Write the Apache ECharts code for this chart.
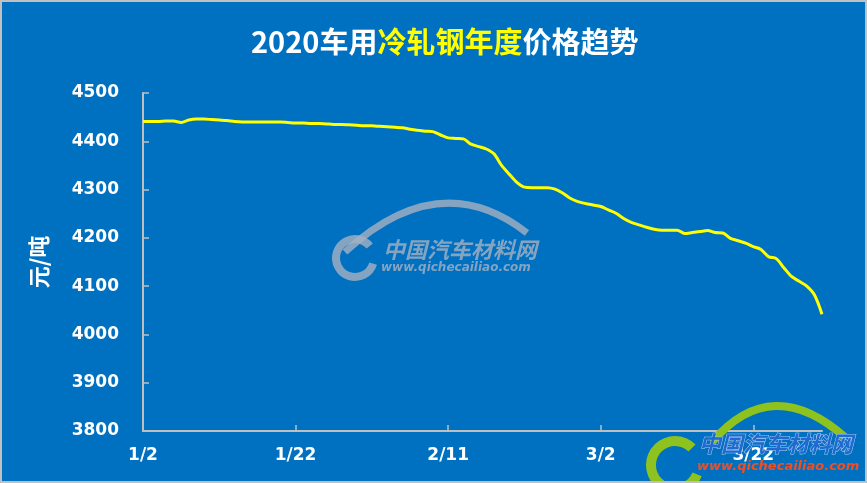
<!DOCTYPE html>
<html><head><meta charset="utf-8">
<script src="https://cdn.jsdelivr.net/npm/echarts@6/dist/echarts.min.js"></script>
<style>html,body{margin:0;padding:0;background:#0070C0}#c{width:867px;height:483px}</style>
</head><body><div id="c"></div>
<script>
// Daily dates 1/2 .. 3/31 (2020)
const startMonthDays = [[1, 2, 31], [2, 1, 29], [3, 1, 31]];
const dates = [];
startMonthDays.forEach(([m, s, e]) => { for (let d = s; d <= e; d++) dates.push(m + '/' + d); });

const prices = [
  4441, 4441, 4441, 4442, 4442, 4439, 4444, 4446, 4446, 4445,
  4444, 4443, 4441, 4440, 4440, 4440, 4440, 4440, 4440, 4439,
  4438, 4438, 4437, 4437, 4436, 4435, 4435, 4434, 4433, 4432,
  4432, 4431, 4430, 4429, 4428, 4425, 4423, 4421, 4420, 4413,
  4407, 4406, 4405, 4394, 4389, 4384, 4374, 4350, 4332, 4315,
  4305, 4304, 4304, 4304, 4301, 4293, 4282, 4275, 4271, 4268,
  4265, 4258, 4251, 4240, 4232, 4227, 4222, 4218, 4216, 4216,
  4216, 4209, 4211, 4213, 4215, 4211, 4210, 4199, 4194, 4189,
  4182, 4176, 4161, 4157, 4138, 4120, 4110, 4100, 4082, 4042
];

const yMin = 3800, yMax = 4500, yStep = 100;
const titleParts = ['2020车用', '冷轧钢年度', '价格趋势'];
const yName = '元/吨';

const chart = echarts.init(document.getElementById('c'));
const wmGray = 'rgba(165,178,192,0.8)';
chart.setOption({
  backgroundColor: '#0070C0',
  animation: false,
  title: {
    text: '{w|' + titleParts[0] + '}{y|' + titleParts[1] + '}{w|' + titleParts[2] + '}',
    left: 246, top: 22,
    textStyle: {
      rich: {
        w: { color: '#FFFFFF', fontSize: 29, fontWeight: 'bold', fontFamily: 'Noto Sans CJK SC' },
        y: { color: '#FFFF00', fontSize: 29, fontWeight: 'bold', fontFamily: 'Noto Sans CJK SC' }
      }
    }
  },
  grid: { left: 143, right: 45, top: 93, bottom: 52 },
  xAxis: {
    type: 'category', data: dates, boundaryGap: false,
    axisLine: { lineStyle: { color: '#BFBFBF', width: 2 } },
    axisTick: { inside: true, length: 6, interval: 19, lineStyle: { color: '#BFBFBF', width: 1.5 } },
    axisLabel: { interval: 19, color: '#FFFFFF', fontWeight: 'bold', fontSize: 17, fontFamily: 'DejaVu Sans', margin: 16 },
    splitLine: { show: false }
  },
  yAxis: {
    type: 'value', min: yMin, max: yMax, interval: yStep,
    name: yName, nameLocation: 'middle', nameGap: 93,
    nameTextStyle: { color: '#FFFFFF', fontSize: 22, fontWeight: 'bold', fontFamily: 'Noto Sans CJK SC' },
    axisLine: { show: true, lineStyle: { color: '#BFBFBF', width: 2 } },
    axisTick: { show: true, inside: true, length: 6, lineStyle: { color: '#BFBFBF', width: 1.5 } },
    axisLabel: { color: '#FFFFFF', fontWeight: 'bold', fontSize: 17, fontFamily: 'DejaVu Sans', margin: 24, formatter: v => String(v) },
    splitLine: { show: false }
  },
  series: [{
    type: 'line', data: prices, smooth: 0.3, showSymbol: false, symbol: 'none',
    lineStyle: { color: '#FFFF00', width: 3 }
  }],
  graphic: [
    { type: 'rect', shape: { x: 1, y: 1, width: 865, height: 481 }, style: { fill: 'none', stroke: '#C0C0C0', lineWidth: 2 }, z: 100 },
    // center watermark
    { type: 'bezierCurve', shape: { x1: 345, y1: 252, cpx1: 440, cpy1: 165, x2: 527, y2: 233 }, style: { stroke: wmGray, lineWidth: 7, fill: 'none' }, z: -1 },
    { type: 'arc', shape: { cx: 355, cy: 258, r: 19, startAngle: 0.3, endAngle: 5.6, clockwise: true }, style: { stroke: wmGray, lineWidth: 8, fill: 'none' }, z: -1 },
    { type: 'text', x: 383, y: 250, style: { text: '中国汽车材料网', fill: wmGray, font: 'italic bold 22px "Noto Sans CJK SC"', textVerticalAlign: 'middle' }, z: -1 },
    { type: 'text', x: 381, y: 268, style: { text: 'www.qichecailiao.com', fill: wmGray, font: 'italic bold 12px "DejaVu Sans"', textVerticalAlign: 'middle' }, z: -1 },
    // bottom-right logo
    { type: 'bezierCurve', shape: { x1: 712, y1: 442, cpx1: 772, cpy1: 372, x2: 846, y2: 438 }, style: { stroke: '#8DC21F', lineWidth: 8, fill: 'none' }, z: 50 },
    { type: 'arc', shape: { cx: 675, cy: 465, r: 24, startAngle: 0.4, endAngle: 5.5, clockwise: true }, style: { stroke: '#8DC21F', lineWidth: 10, fill: 'none' }, z: 50 },
    { type: 'text', x: 699, y: 444, style: { text: '中国汽车材料网', fill: '#1E6AD0', stroke: '#A9CBEF', lineWidth: 1, font: 'italic bold 22px "Noto Sans CJK SC"', textVerticalAlign: 'middle' }, z: 50 },
    { type: 'text', x: 697, y: 467, style: { text: 'www.qichecailiao.com', fill: '#F04E23', font: 'italic bold 13px "DejaVu Sans"', textVerticalAlign: 'middle' }, z: 50 }
  ]
});
</script></body></html>
